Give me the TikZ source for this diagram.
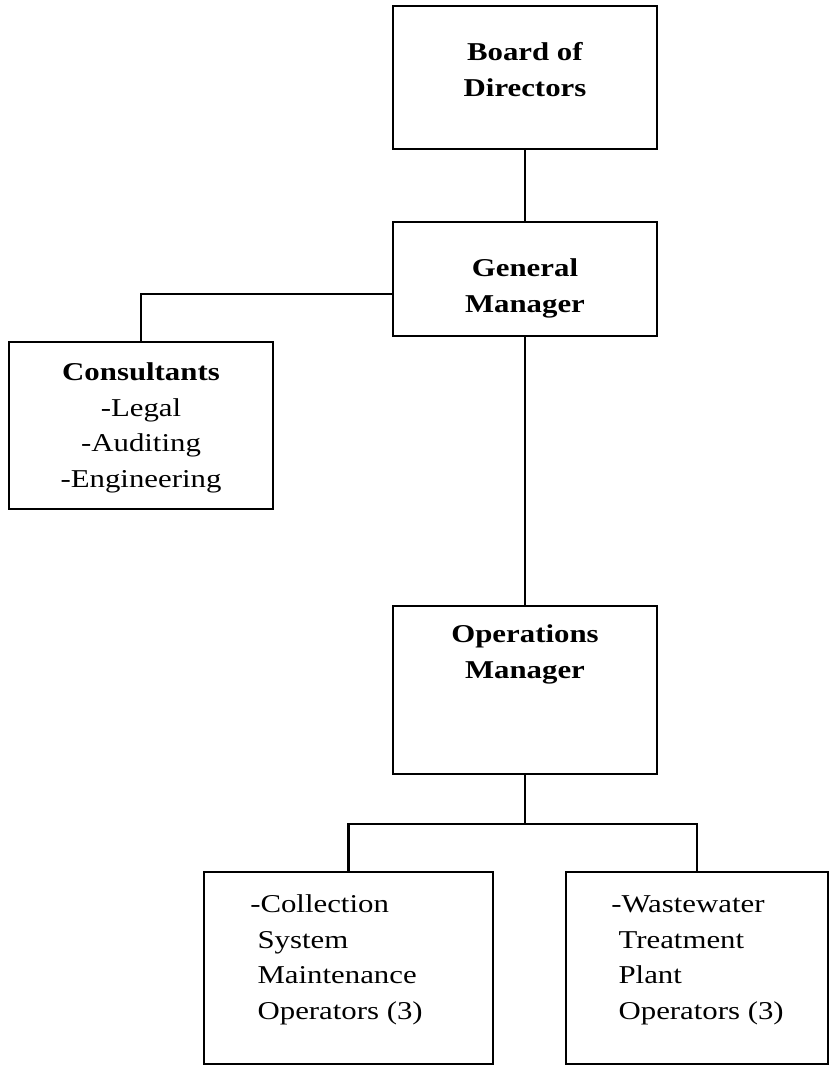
\documentclass[tikz,border=0pt]{standalone}
\usepackage{fontspec}
\setmainfont{Liberation Serif}[FakeStretch=1.2]
\begin{document}
\begin{tikzpicture}[x=0.75pt,y=-0.75pt,
  box/.style={draw,line width=1.6pt,rectangle,inner sep=0pt},
  conn/.style={line width=1.6pt},
  txt/.style={inner sep=0pt,anchor=base,font=\fontsize{19.26pt}{26.6pt}\selectfont}]
\useasboundingbox (0,0) rectangle (831,1067);
% boxes
\node[box,minimum width=198pt,minimum height=107.25pt] (board) at (525,77.5) {};
\node[box,minimum width=198pt,minimum height=85.5pt] (gm) at (525,279) {};
\node[box,minimum width=198pt,minimum height=125.25pt] (cons) at (141,425.5) {};
\node[box,minimum width=198pt,minimum height=126pt] (ops) at (525,690) {};
\node[box,minimum width=216.75pt,minimum height=144pt] (lb) at (348.5,968) {};
\node[box,minimum width=196.5pt,minimum height=144pt] (rb) at (697,968) {};
% texts (anchored at the baseline of the last line)
\node[txt,align=center] (tboard) at (525,96) {\textbf{Board of}\\\textbf{Directors}};
\node[txt,align=center] (tgm) at (525,312) {\textbf{General}\\\textbf{Manager}};
\node[txt,align=center] (tcons) at (141,487) {\textbf{Consultants}\\-Legal\\-Auditing\\-Engineering};
\node[txt,align=center] (tops) at (525,678) {\textbf{Operations}\\\textbf{Manager}};
\node[txt,align=left,anchor=base west] (tlb) at (250,1019) {-Collection\\\hspace*{5.5pt}System\\\hspace*{5.5pt}Maintenance\\\hspace*{5.5pt}Operators (3)};
\node[txt,align=left,anchor=base west] (trb) at (611,1019) {-Wastewater\\\hspace*{5.5pt}Treatment\\\hspace*{5.5pt}Plant\\\hspace*{5.5pt}Operators (3)};
% connectors
\draw[conn] (board.south) -- (gm.north);
\draw[conn] ([yshift=-11.25pt]gm.west) -| (cons.north);
\draw[conn] (gm.south) -- (ops.north);
\draw[conn] (ops.south) -- ++(0,49) -| (lb.north);
\draw[conn] (ops.south) -- ++(0,49) -| (rb.north);
\end{tikzpicture}
\end{document}
